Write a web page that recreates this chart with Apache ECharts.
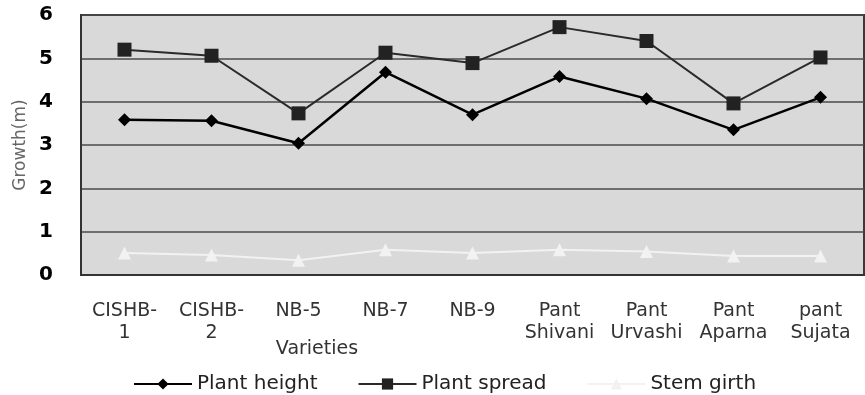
<!DOCTYPE html>
<html>
<head>
<meta charset="utf-8">
<script src="https://cdn.jsdelivr.net/npm/echarts@6/dist/echarts.min.js"></script>
<style>html,body{margin:0;padding:0;background:#fff}#c{width:865px;height:395px}</style>
</head>
<body>
<div id="c"></div>
<script>
const categories = ['CISHB-\n1','CISHB-\n2','NB-5','NB-7','NB-9','Pant\nShivani','Pant\nUrvashi','Pant\nAparna','pant\nSujata'];
const plantHeight = [3.58, 3.56, 3.04, 4.68, 3.70, 4.58, 4.07, 3.35, 4.10];
const plantSpread = [5.20, 5.06, 3.73, 5.13, 4.89, 5.72, 5.40, 3.96, 5.02];
const stemGirth = [0.51, 0.46, 0.34, 0.58, 0.51, 0.58, 0.54, 0.44, 0.44];
const yTicks = [0, 1, 2, 3, 4, 5, 6];

const chart = echarts.init(document.getElementById('c'));
const F = 'DejaVu Sans';
chart.setOption({
  animation: false,
  backgroundColor: '#fff',
  grid: { left: 81, right: 1, top: 15, bottom: 120, show: true, backgroundColor: '#d9d9d9', borderColor: '#3a3a3a', borderWidth: 2 },
  xAxis: {
    type: 'category', data: categories, boundaryGap: true,
    axisLine: { show: true, lineStyle: { color: '#333', width: 2 } },
    axisTick: { show: false },
    axisLabel: { color: '#333', fontFamily: F, fontSize: 19, lineHeight: 22, margin: 25, interval: 0 }
  },
  yAxis: {
    type: 'value', min: yTicks[0], max: yTicks[yTicks.length - 1], interval: 1,
    axisLine: { show: true, lineStyle: { color: '#333', width: 2 } },
    axisTick: { show: false },
    splitLine: { show: true, lineStyle: { color: '#4a4a4a', width: 1.5 } },
    axisLabel: { color: '#000', fontFamily: F, fontWeight: 'bold', fontSize: 20, margin: 28 }
  },
  legend: {
    left: 128, top: 369, itemWidth: 58, itemHeight: 14, itemGap: 40,
    textStyle: { color: '#222', fontFamily: F, fontSize: 20 },
    data: ['Plant height', 'Plant spread', 'Stem girth']
  },
  graphic: [
    { type: 'text', x: 21, y: 145, rotation: Math.PI / 2,
      style: { text: 'Growth(m)', fill: '#666', font: '17px "DejaVu Sans"', align: 'center', verticalAlign: 'middle' } },
    { type: 'text', x: 317, y: 349,
      style: { text: 'Varieties', fill: '#333', font: '19px "DejaVu Sans"', align: 'center', verticalAlign: 'middle' } }
  ],
  series: [
    { name: 'Plant height', type: 'line', data: plantHeight, symbol: 'diamond', symbolSize: 13,
      itemStyle: { color: '#000' }, lineStyle: { color: '#000', width: 2.5 } },
    { name: 'Plant spread', type: 'line', data: plantSpread, symbol: 'rect', symbolSize: 14,
      itemStyle: { color: '#222' }, lineStyle: { color: '#2a2a2a', width: 2 } },
    { name: 'Stem girth', type: 'line', data: stemGirth, symbol: 'triangle', symbolSize: 13,
      itemStyle: { color: '#f2f2f2' }, lineStyle: { color: '#f2f2f2', width: 2 } }
  ]
});
</script>
</body>
</html>
